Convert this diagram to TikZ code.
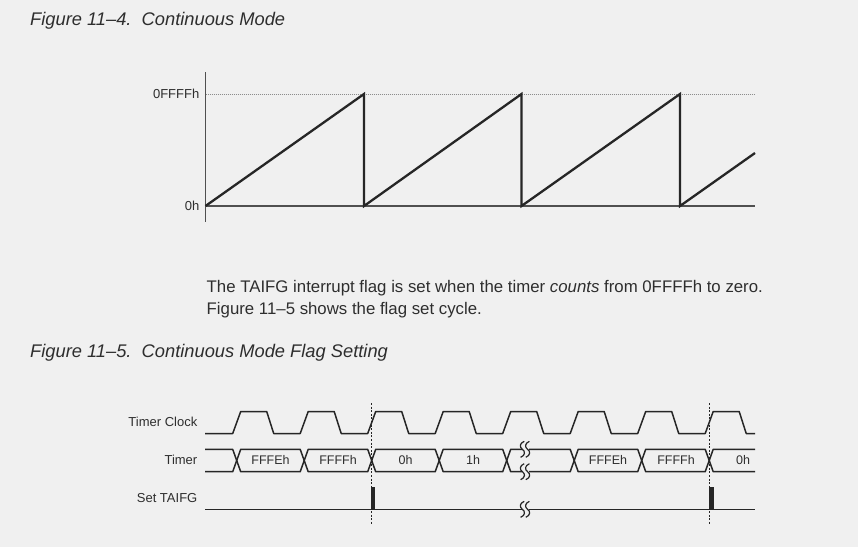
\documentclass[tikz,border=0pt]{standalone}
\usepackage{fontspec}
\setmainfont{Liberation Sans}
\definecolor{bgc}{HTML}{F0F0F0}
\definecolor{ink}{HTML}{262626}
\definecolor{txt}{HTML}{2E2E2E}
\definecolor{axc}{HTML}{505050}
\definecolor{dotc}{HTML}{8C8C8C}
\newcommand\brkhalf[2]{%
  \draw[wave, line width=1.2pt] ({#1+1.8},{#2-8}) .. controls ({#1-3},{#2-6}) and ({#1-3},{#2-2}) .. ({#1},{#2})
    .. controls ({#1+3},{#2+2}) and ({#1+3},{#2+6}) .. ({#1-1.8},{#2+8});
}
\newcommand\brkmark[2]{%
  \fill[bgc] ({#1-3.5},{#2-2}) rectangle ({#1+3.5},{#2+2});
  \brkhalf{#1-2.6}{#2}
  \brkhalf{#1+2.6}{#2}
}
\begin{document}
\begin{tikzpicture}[x=1pt,y=-1pt,
  title/.style={font=\fontsize{18.3}{21}\selectfont\itshape, text=txt, inner sep=0pt, anchor=base west},
  para/.style={font=\fontsize{16.8}{19}\selectfont, text=txt, inner sep=0pt, anchor=base west},
  axlab/.style={font=\fontsize{13}{15}\selectfont, text=txt, inner sep=0pt, anchor=east},
  siglab/.style={font=\fontsize{13}{15}\selectfont, text=txt, inner sep=0pt, anchor=east},
  buslab/.style={font=\fontsize{12.5}{14}\selectfont, text=txt, inner sep=0pt},
  axis/.style={draw=axc, line width=1.1pt},
  saw/.style={draw=ink, line width=2.3pt, line join=miter},
  wave/.style={draw=ink, line width=1.5pt, line join=round},
  guide/.style={draw=ink, line width=0.7pt, dash pattern=on 2pt off 1.6pt},
]
\fill[bgc] (0,0) rectangle (858,547);
\useasboundingbox (0,0) rectangle (858,547);

% ---------- Figure 11-4 ----------
\node[title] (t1) at (30,25.7) {Figure 11–4.\ \ Continuous Mode};

\draw[dotc, line width=1pt, dash pattern=on 1pt off 1pt] (205.5,94) -- (755,94);
\draw[axis] (205.5,72) -- (205.5,222);
\draw[axis] (205.5,206) -- (755,206);
\draw[saw] (205.5,206) -- (364,94) -- (364,206) -- (521.5,94) -- (521.5,206)
  -- (680,94) -- (680,206) -- (755,153);
\node[axlab] (ymax) at (199.5,94) {0FFFFh};
\node[axlab] (ymin) at (199.5,206) {0h};

% ---------- paragraph ----------
\node[para] (p1) at (206.5,292.5) {The TAIFG interrupt flag is set when the timer \textit{counts} from 0FFFFh to zero.};
\node[para] (p2) at (206.5,314.5) {Figure 11–5 shows the flag set cycle.};

% ---------- Figure 11-5 ----------
\node[title] (t2) at (30,357) {Figure 11–5.\ \ Continuous Mode Flag Setting};

\node[siglab] (lclk) at (197.5,422) {Timer Clock};
\node[siglab] (ltmr) at (197.5,460) {Timer};
\node[siglab] (lset) at (197.5,498) {Set TAIFG};

% guide lines
\draw[guide] (371.7,403) -- (371.7,525);
\draw[guide] (709.2,403) -- (709.2,525);

% clock
\def\lo{433.5}\def\hi{411.5}
\draw[wave] (205,\lo)
  \foreach \c in {236.7,304.2,371.7,439.2,506.7,574.2,641.7,709.2}{
    -- ({\c-4},\lo) -- ({\c+4},\hi) -- ({\c+30},\hi) -- ({\c+37},\lo)
  } -- (755,\lo);

% timer bus
\def\bt{449.3}\def\bb{471.7}
\draw[wave] (205,\bt) -- (232.7,\bt) -- (240.7,\bb) -- (300.2,\bb) -- (308.2,\bt) -- (367.7,\bt)
  -- (375.7,\bb) -- (435.2,\bb) -- (443.2,\bt) -- (502.7,\bt) -- (510.7,\bb) -- (570.2,\bb)
  -- (578.2,\bt) -- (637.7,\bt) -- (645.7,\bb) -- (705.2,\bb) -- (713.2,\bt) -- (755,\bt);
\draw[wave] (205,\bb) -- (232.7,\bb) -- (240.7,\bt) -- (300.2,\bt) -- (308.2,\bb) -- (367.7,\bb)
  -- (375.7,\bt) -- (435.2,\bt) -- (443.2,\bb) -- (502.7,\bb) -- (510.7,\bt) -- (570.2,\bt)
  -- (578.2,\bb) -- (637.7,\bb) -- (645.7,\bt) -- (705.2,\bt) -- (713.2,\bb) -- (755,\bb);
\node[buslab] (v1) at (270.5,460) {FFFEh};
\node[buslab] (v2) at (338,460) {FFFFh};
\node[buslab] (v3) at (405.5,460) {0h};
\node[buslab] (v4) at (473,460) {1h};
\node[buslab] (v5) at (608,460) {FFFEh};
\node[buslab] (v6) at (676,460) {FFFFh};
\node[buslab] (v7) at (743,460) {0h};
\brkmark{525}{\bt}
\brkmark{525}{\bb}

% set TAIFG
\draw[wave] (205,509.3) -- (755,509.3);
\fill[ink] (370.7,486.5) rectangle (375.2,509.3);
\fill[ink] (708.5,486.5) rectangle (713.5,509.3);
\brkmark{525}{509.3}
\end{tikzpicture}
\end{document}
